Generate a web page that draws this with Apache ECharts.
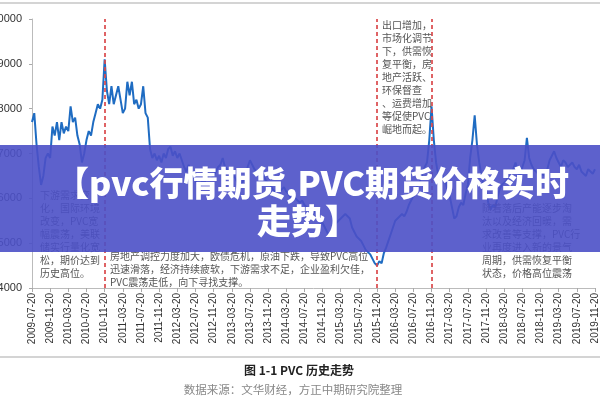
<!DOCTYPE html>
<html>
<head>
<meta charset="utf-8">
<script src="https://cdn.jsdelivr.net/npm/echarts@6/dist/echarts.min.js"></script>
<style>html,body{margin:0;padding:0;background:#fff}#c{width:600px;height:400px}</style>
</head>
<body>
<div id="c"></div>
<script>
// x-axis tick labels, one every 4 months
const tickLabels = ['2009-07-20','2009-11-20','2010-03-20','2010-07-20','2010-11-20','2011-03-20','2011-07-20','2011-11-20','2012-03-20','2012-07-20','2012-11-20','2013-03-20','2013-07-20','2013-11-20','2014-03-20','2014-07-20','2014-11-20','2015-03-20','2015-07-20','2015-11-20','2016-03-20','2016-07-20','2016-11-20','2017-03-20','2017-07-20','2017-11-20','2018-03-20','2018-07-20','2018-11-20','2019-03-20','2019-07-20','2019-11-20'];
const yTicks = [4000, 10000, 1000];
// PVC price, two readings per month starting 2009-07-20
const prices = [
7700,7900,7200,6700,6300,6500,6900,7000,6900,7600,7400,7700,7300,7700,7450,7600,
7500,8050,7700,7800,7400,7200,6800,7000,7300,7500,7400,7700,7900,8100,8000,8200,
9100,8400,8100,8500,8100,8300,8500,8200,7900,8000,8600,8300,8600,8100,8200,8000,
8100,8500,7900,7800,7100,6900,7000,6850,6950,6800,7000,6900,7100,7150,6950,7050,
6900,7000,6850,6700,6600,6750,6600,6550,6400,6300,6250,6400,6350,6500,6400,6450,
6500,6600,6700,6750,6900,6700,6650,6550,6450,6500,6400,6300,6250,6400,6550,6700,
6850,6750,6650,6600,6550,6450,6500,6400,6350,6300,6200,6150,6200,6150,6200,6250,
6150,6100,6000,6050,6000,5950,5900,5950,5850,5800,5750,5700,5750,5650,5550,5450,
5450,5350,5250,5150,5200,5350,5450,5500,5550,5600,5650,5600,5550,5350,5250,5150,
5100,5050,4950,4850,4800,4750,4650,4550,4500,4600,4550,4780,4900,5050,5200,5350,
5500,5550,5600,5650,5600,5700,5850,5950,6050,6200,6300,6400,6550,6700,6800,7300,
8050,7300,6800,6500,6300,6500,6400,6200,6050,5800,5550,5600,5800,5900,5850,6100,
6300,6900,7300,7850,7200,6800,6500,6300,6150,5900,5750,5850,5800,6000,6200,6300,
6350,6400,6500,6450,6650,6800,6600,6500,6700,6850,7350,6900,6750,6650,6600,6550,
6500,6550,6500,6650,6850,6950,7050,6900,6800,6700,6850,6800,6700,6750,6800,6700,
6650,6750,6600,6550,6500,6650,6600,6550,6650
];
// event marker dates (month offsets from 2009-07-20)
const eventMonths = [16, 76, 88];
const notes = [
  '下游需求变\n化，国际环境\n改变，PVC宽\n幅震荡，美联\n储实行量化宽\n松，期价达到\n历史高位。',
  '房地产调控力度加大，欧债危机，原油下跌，导致PVC高位\n迅速滑落，经济持续疲软，下游需求不足，企业盈利欠佳，\nPVC震荡走低，向下寻找支撑。',
  '出口增加，\n市场化调节\n下，供需恢\n复平衡，房\n地产活跃、\n环保督查\n、运费增加\n等促使PVC\n崛地而起。',
  '随着落后产能逐步淘\n汰以及经济回暖，需\n求改善等支撑，PVC行\n业再度进入新的景气\n周期，供需恢复平衡\n状态，价格高位震荡'
];
const caption = '图 1-1 PVC 历史走势';
const source = '数据来源：文华财经，方正中期研究院整理';
const bannerLines = ['【pvc行情期货,PVC期货价格实时', '走势】'];

const cjk = '"Noto Sans CJK SC", "Noto Sans", sans-serif';
const chart = echarts.init(document.getElementById('c'));
const noteStyle = (text, x, y) => ({
  type: 'text', x: x, y: y, z: 10,
  style: { text: text, fill: '#555', font: '10px ' + cjk, lineHeight: 13 }
});
chart.setOption({
  animation: false,
  backgroundColor: '#fff',
  grid: { left: 32, right: 5, top: 19, bottom: 112, containLabel: false, outerBoundsMode: 'none' },
  xAxis: {
    type: 'value', min: 0, max: (tickLabels.length - 1) * 4, interval: 4,
    axisLine: { lineStyle: { color: '#bbb' } },
    axisTick: { show: true, length: 4, lineStyle: { color: '#aaa' } },
    splitLine: { show: false },
    axisLabel: { rotate: 90, fontSize: 10, color: '#333', margin: 5,
      fontFamily: 'Liberation Sans', showMinLabel: true, showMaxLabel: true,
      formatter: v => tickLabels[Math.round(v / 4)] || '' }
  },
  yAxis: {
    type: 'value', min: yTicks[0], max: yTicks[1], interval: yTicks[2],
    axisLine: { show: true, lineStyle: { color: '#bbb' } },
    axisTick: { show: true, length: 3, lineStyle: { color: '#aaa' } },
    splitLine: { show: false },
    axisLabel: { fontSize: 11, color: '#333', margin: 10, fontFamily: 'Liberation Sans',
      formatter: v => String(v) }
  },
  series: [{
    type: 'line', symbol: 'none', z: 3,
    data: prices.map((v, i) => [i / 2, v]),
    lineStyle: { color: '#1f6cc2', width: 2 },
    markLine: {
      symbol: 'none', silent: true, label: { show: false },
      lineStyle: { color: '#d9484a', width: 2, type: [4, 3], opacity: 0.85 },
      data: eventMonths.map(m => ({ xAxis: m }))
    }
  }],
  graphic: [
    { type: 'rect', shape: { x: 0, y: 2, width: 600, height: 2 }, style: { fill: '#d4d4d4' }, z: 5 },
    { type: 'rect', shape: { x: 0, y: 356, width: 600, height: 2 }, style: { fill: '#d4d4d4' }, z: 5 },
    { type: 'text', x: 299, y: 370, z: 5, style: { text: caption, fill: '#222', font: 'bold 12px ' + cjk, textAlign: 'center', textVerticalAlign: 'middle' } },
    { type: 'text', x: 293, y: 390, z: 5, style: { text: source, fill: '#888', font: '11.5px ' + cjk, textAlign: 'center', textVerticalAlign: 'middle' } },
    noteStyle(notes[0], 40, 189),
    noteStyle(notes[1], 110, 250),
    noteStyle(notes[2], 382, 19),
    noteStyle(notes[3], 482, 202),
    { type: 'rect', shape: { x: 0, y: 145, width: 600, height: 107 }, style: { fill: 'rgba(75,80,198,0.9)' }, z: 20 },
    { type: 'text', x: 312, y: 183, z: 21, style: { text: bannerLines[0], fill: '#fff', font: '900 34px ' + cjk, textAlign: 'center', textVerticalAlign: 'middle' } },
    { type: 'text', x: 308, y: 221, z: 21, style: { text: bannerLines[1], fill: '#fff', font: '900 34px ' + cjk, textAlign: 'center', textVerticalAlign: 'middle' } }
  ]
});
</script>
</body>
</html>
